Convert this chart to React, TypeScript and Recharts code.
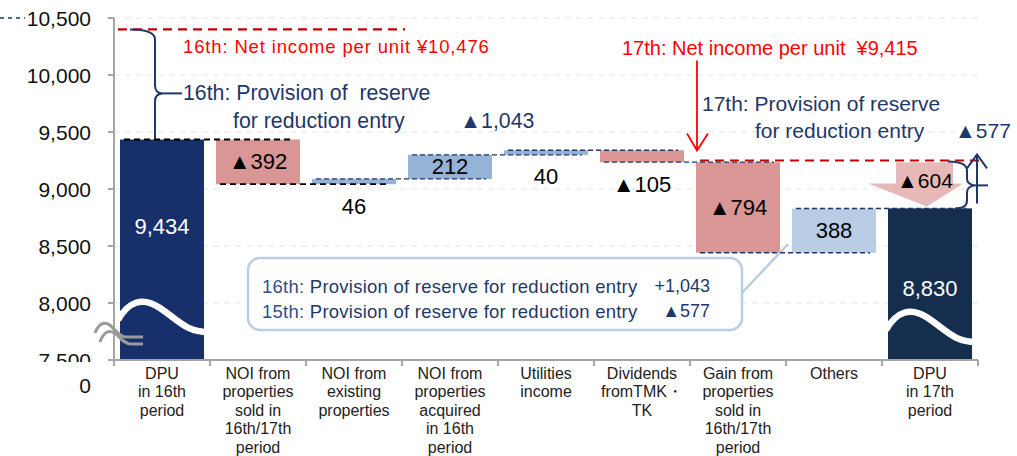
import React from 'react'
import { Bar, BarChart, CartesianGrid, Cell, LabelList, ReferenceDot, XAxis, YAxis } from 'recharts'

const CATEGORIES = [
  'DPU\nin 16th\nperiod',
  'NOI from\nproperties\nsold in\n16th/17th\nperiod',
  'NOI from\nexisting\nproperties',
  'NOI from\nproperties\nacquired\nin 16th\nperiod',
  'Utilities\nincome',
  'Dividends\nfromTMK・\nTK',
  'Gain from\nproperties\nsold in\n16th/17th\nperiod',
  'Others',
  'DPU\nin 17th\nperiod',
]
const OPENING_DPU = 9434
const CHANGES = [-392, 46, 212, 40, -105, -794, 388]
const CLOSING_DPU = 8830
const BAR_LABELS = ['9,434', '▲392', '46', '212', '40', '▲105', '▲794', '388', '8,830']
const Y_TICKS = [7500, 8000, 8500, 9000, 9500, 10000, 10500]
// levels where the net income lines are drawn in the picture
const NET_INCOME_16TH_LINE = 10400
const NET_INCOME_17TH_LINE = 9250
const CALLOUT_LEVEL = 8000

const NAVY = '#1f3769'
const BAR_COLORS = ['#172f6a', '#d99694', '#95b3d7', '#95b3d7', '#95b3d7', '#d99694', '#d99694', '#b9cde5', '#152e4e']
const AXIS_GRAY = '#a6a6a6'
const FONT = '"Liberation Sans", Arial, sans-serif'

type Row = { name: string; range: [number, number]; endsAtTop: boolean; label: string; total: boolean }

const rows: Row[] = (() => {
  const out: Row[] = [{ name: CATEGORIES[0], range: [0, OPENING_DPU], endsAtTop: true, label: BAR_LABELS[0], total: true }]
  let level = OPENING_DPU
  CHANGES.forEach((d, i) => {
    const next = level + d
    out.push({
      name: CATEGORIES[i + 1],
      range: [Math.min(level, next), Math.max(level, next)],
      endsAtTop: d > 0,
      label: BAR_LABELS[i + 1],
      total: false,
    })
    level = next
  })
  out.push({ name: CATEGORIES[8], range: [0, CLOSING_DPU], endsAtTop: true, label: BAR_LABELS[8], total: true })
  return out
})()

function rectOf(props: any) {
  const vb = props.viewBox && props.viewBox.width != null ? props.viewBox : props
  return { x: Number(vb.x), y: Number(vb.y), width: Number(vb.width), height: Number(vb.height) }
}

function WaterfallShape(props: any) {
  const { x, y, width, height, fill, index, background } = props
  const bottom = background ? background.y + background.height : 360
  const row = rows[index]
  const lift = index === 0 ? 40 : 30
  return (
    <g>
      <rect x={x} y={y} width={width} height={height} fill={fill} />
      {row && row.total && (
        <path
          d={`M ${x - 2},${bottom - lift} C ${x + 8},${bottom - lift - 18} ${x + 22},${bottom - lift - 24} ${x + 40},${bottom - lift - 12} S ${x + 66},${bottom - lift + 12} ${x + width + 4},${bottom - lift + 12}`}
          stroke="#fff"
          strokeWidth={6.5}
          fill="none"
        />
      )}
    </g>
  )
}

function Connector(props: any) {
  const { index } = props
  if (index == null || index >= rows.length - 1) return null
  const { x, y, width, height } = rectOf(props)
  const row = rows[index]
  const ly = row.endsAtTop ? y : y + height
  const black = index < 2
  return (
    <line
      x1={x + 4}
      x2={x + width * 2 + 6}
      y1={ly}
      y2={ly}
      stroke={black ? '#000' : NAVY}
      strokeWidth={black ? 1.8 : 1.3}
      strokeDasharray={black ? '6 4' : '5 3'}
    />
  )
}

function ValueLabel(props: any) {
  const { index } = props
  if (index == null) return null
  const { x, y, width, height } = rectOf(props)
  const row = rows[index]
  let cy = y + height / 2
  if (index === 0) cy = y + 87
  else if (index === rows.length - 1) cy = y + 80
  else if (height < 15) cy = y + height + 22
  return (
    <text
      x={x + width / 2}
      y={cy}
      textAnchor="middle"
      dominantBaseline="central"
      fontSize={22}
      fill={row.total ? '#fff' : '#000'}
    >
      {row.label}
    </text>
  )
}

function XTick(props: any) {
  const { x, y, payload, index } = props
  const lines = String(payload.value).split('\n')
  const half = 48
  return (
    <g>
      <line x1={x - half} x2={x - half} y1={y} y2={y + 6} stroke={AXIS_GRAY} strokeWidth={2} />
      {index === rows.length - 1 && (
        <line x1={x + half} x2={x + half} y1={y} y2={y + 6} stroke={AXIS_GRAY} strokeWidth={2} />
      )}
      {lines.map((l, i) => (
        <text key={i} x={x} y={y + 13 + i * 18.5} textAnchor="middle" dominantBaseline="central" fontSize={16} fill="#222">
          {l}
        </text>
      ))}
    </g>
  )
}

function YTick(props: any) {
  const { x, y, payload } = props
  const v = Number(payload.value)
  return (
    <g>
      {v === 10500 && (
        <line x1={x - 91} x2={x - 66} y1={y} y2={y} stroke={NAVY} strokeWidth={1.5} strokeDasharray="4 4" />
      )}
      <text x={x} y={y} textAnchor="end" dominantBaseline="central" fontSize={21} fill="#111">
        {v.toLocaleString('en-US')}
      </text>
      {v === 7500 && (
        <>
          <rect x={x - 80} y={y + 2} width={84} height={14} fill="#fff" />
          <text x={x} y={y + 25} textAnchor="end" dominantBaseline="central" fontSize={21} fill="#111">
            0
          </text>
        </>
      )}
    </g>
  )
}

function TopNote({ cx, cy }: { cx: number; cy: number }) {
  return (
    <g>
      <line x1={cx - 44} x2={cx + 243} y1={cy} y2={cy} stroke="#c00000" strokeWidth={2.2} strokeDasharray="9 6" />
      <text x={cx + 21} y={cy + 17} fill="#ff0000" fontSize={18.5} letterSpacing={0.85} dominantBaseline="central">
        16th: Net income per unit ¥10,476
      </text>
      <path
        d={`M ${cx - 32},${cy} Q ${cx - 7},${cy} ${cx - 7},${cy + 10} L ${cx - 7},${cy + 56} Q ${cx - 7},${cy + 64} ${cx + 1},${cy + 64} Q ${cx - 7},${cy + 64} ${cx - 7},${cy + 72} L ${cx - 7},${cy + 112}`}
        stroke={NAVY}
        strokeWidth={2}
        fill="none"
      />
      <line x1={cx + 1} x2={cx + 20} y1={cy + 64} y2={cy + 64} stroke={NAVY} strokeWidth={2} />
      <text x={cx + 21} y={cy + 64} fill={NAVY} fontSize={21.3} dominantBaseline="central" style={{ whiteSpace: 'pre' }}>
        16th: Provision of  reserve
      </text>
      <text x={cx + 71} y={cy + 92} fill={NAVY} fontSize={21.3} dominantBaseline="central">
        for reduction entry
      </text>
      <text x={cx + 298} y={cy + 92} fill={NAVY} fontSize={21.3} dominantBaseline="central">
        ▲1,043
      </text>
    </g>
  )
}

function RightNote({ cx, cy }: { cx: number; cy: number }) {
  return (
    <g>
      <line x1={cx - 38} x2={cx + 247} y1={cy} y2={cy} stroke="#c00000" strokeWidth={2.2} strokeDasharray="9 6" />
      <line x1={cx - 41} x2={cx - 41} y1={cy - 100} y2={cy - 10} stroke="#ff0000" strokeWidth={1.8} />
      <path d={`M ${cx - 51},${cy - 27} L ${cx - 41},${cy - 10} L ${cx - 30},${cy - 27}`} stroke="#ff0000" strokeWidth={1.8} fill="none" />
      <text x={cx - 116} y={cy - 113} fill="#ff0000" fontSize={20} dominantBaseline="central" style={{ whiteSpace: 'pre' }}>
        17th: Net income per unit  ¥9,415
      </text>
      <text x={cx - 36} y={cy - 57} fill={NAVY} fontSize={21} dominantBaseline="central">
        17th: Provision of reserve
      </text>
      <text x={cx + 17} y={cy - 30} fill={NAVY} fontSize={21} dominantBaseline="central">
        for reduction entry
      </text>
      <text x={cx + 217} y={cy - 30} fill={NAVY} fontSize={21} dominantBaseline="central">
        ▲577
      </text>
    </g>
  )
}

function ClosingNote({ cx, cy }: { cx: number; cy: number }) {
  return (
    <g>
      <rect x={cx - 34} y={cy - 46} width={57} height={22} fill="#e6b9b8" />
      <path d={`M ${cx - 62},${cy - 25} L ${cx + 33},${cy - 25} L ${cx - 3},${cy - 2} Z`} fill="#e6b9b8" />
      <text x={cx - 5} y={cy - 28} textAnchor="middle" dominantBaseline="central" fontSize={21} fill="#000">
        ▲604
      </text>
      <path
        d={`M ${cx + 18},${cy - 47} Q ${cx + 37},${cy - 47} ${cx + 37},${cy - 38} L ${cx + 37},${cy - 30} Q ${cx + 37},${cy - 24} ${cx + 45},${cy - 23} Q ${cx + 37},${cy - 22} ${cx + 37},${cy - 16} L ${cx + 37},${cy - 8} Q ${cx + 37},${cy} ${cx + 25},${cy}`}
        stroke={NAVY}
        strokeWidth={2}
        fill="none"
      />
      <line x1={cx + 45} x2={cx + 58} y1={cy - 23} y2={cy - 23} stroke={NAVY} strokeWidth={2} />
      <line x1={cx + 47} x2={cx + 47} y1={cy - 5} y2={cy - 54} stroke={NAVY} strokeWidth={2} />
      <path d={`M ${cx + 37},${cy - 40} L ${cx + 47},${cy - 54} L ${cx + 57},${cy - 40}`} stroke={NAVY} strokeWidth={2} fill="none" />
    </g>
  )
}

function Callout({ cx, cy }: { cx: number; cy: number }) {
  return (
    <g>
      <line x1={cx + 386} y1={cy - 8} x2={cx + 434} y2={cy - 59} stroke="#b9cde5" strokeWidth={2.5} />
      <rect x={cx - 106} y={cy - 45} width={494} height={72} rx={12} fill="#fff" stroke="#b9cde5" strokeWidth={2.5} />
      <text x={cx - 92} y={cy - 17} fontSize={18.5} letterSpacing={0.25} fill={NAVY} dominantBaseline="central">
        <tspan fill="#2f4f8f">16th:</tspan> Provision of reserve for reduction entry
      </text>
      <text x={cx + 356} y={cy - 17} fontSize={18} fill={NAVY} textAnchor="end" dominantBaseline="central">
        +1,043
      </text>
      <text x={cx - 92} y={cy + 8} fontSize={18.5} letterSpacing={0.25} fill={NAVY} dominantBaseline="central">
        <tspan fill="#2f4f8f">15th:</tspan> Provision of reserve for reduction entry
      </text>
      <text x={cx + 356} y={cy + 8} fontSize={18} fill={NAVY} textAnchor="end" dominantBaseline="central">
        ▲577
      </text>
    </g>
  )
}

function AxisBreak({ cx, cy }: { cx: number; cy: number }) {
  return (
    <g stroke="#9a9a9a" strokeWidth={3} fill="none">
      <path d={`M ${cx - 67},${cy - 27} C ${cx - 63},${cy - 37} ${cx - 57},${cy - 39} ${cx - 51},${cy - 34} C ${cx - 46},${cy - 29} ${cx - 42},${cy - 23} ${cx - 36},${cy - 23} L ${cx - 19},${cy - 23}`} />
      <path d={`M ${cx - 62},${cy - 18} C ${cx - 58},${cy - 29} ${cx - 52},${cy - 31} ${cx - 46},${cy - 26} C ${cx - 41},${cy - 21} ${cx - 37},${cy - 16} ${cx - 31},${cy - 16} L ${cx - 19},${cy - 16}`} />
    </g>
  )
}

export default function App() {
  return (
    <div style={{ fontFamily: FONT, width: 1017, height: 456 }}>
      <style>{'body{margin:0}'}</style>
      <BarChart width={1017} height={456} data={rows} margin={{ top: 18, right: 39, bottom: 0, left: 0 }} barSize={84}>
        <CartesianGrid vertical={false} strokeDasharray="6 5" stroke="#e6e6e6" />
        <XAxis
          dataKey="name"
          interval={0}
          tickLine={false}
          tickSize={0}
          tickMargin={0}
          height={96}
          axisLine={{ stroke: AXIS_GRAY, strokeWidth: 2 }}
          tick={<XTick />}
        />
        <YAxis
          type="number"
          width={114}
          domain={[7500, 10500]}
          ticks={Y_TICKS}
          interval={0}
          allowDataOverflow
          tickSize={6}
          tickMargin={17}
          axisLine={{ stroke: AXIS_GRAY, strokeWidth: 2 }}
          tickLine={{ stroke: AXIS_GRAY, strokeWidth: 2 }}
          tick={<YTick />}
        />
        <Bar dataKey="range" isAnimationActive={false} shape={WaterfallShape}>
          {rows.map((r, i) => (
            <Cell key={r.name} fill={BAR_COLORS[i]} />
          ))}
          <LabelList content={Connector} />
          <LabelList content={ValueLabel} />
        </Bar>
        <ReferenceDot x={CATEGORIES[0]} y={7500} r={1} ifOverflow="visible" shape={(p: any) => <AxisBreak cx={p.cx} cy={p.cy} />} />
        <ReferenceDot x={CATEGORIES[0]} y={NET_INCOME_16TH_LINE} r={1} ifOverflow="visible" shape={(p: any) => <TopNote cx={p.cx} cy={p.cy} />} />
        <ReferenceDot x={CATEGORIES[6]} y={NET_INCOME_17TH_LINE} r={1} ifOverflow="visible" shape={(p: any) => <RightNote cx={p.cx} cy={p.cy} />} />
        <ReferenceDot x={CATEGORIES[8]} y={CLOSING_DPU} r={1} ifOverflow="visible" shape={(p: any) => <ClosingNote cx={p.cx} cy={p.cy} />} />
        <ReferenceDot x={CATEGORIES[2]} y={CALLOUT_LEVEL} r={1} ifOverflow="visible" shape={(p: any) => <Callout cx={p.cx} cy={p.cy} />} />
      </BarChart>
    </div>
  )
}
